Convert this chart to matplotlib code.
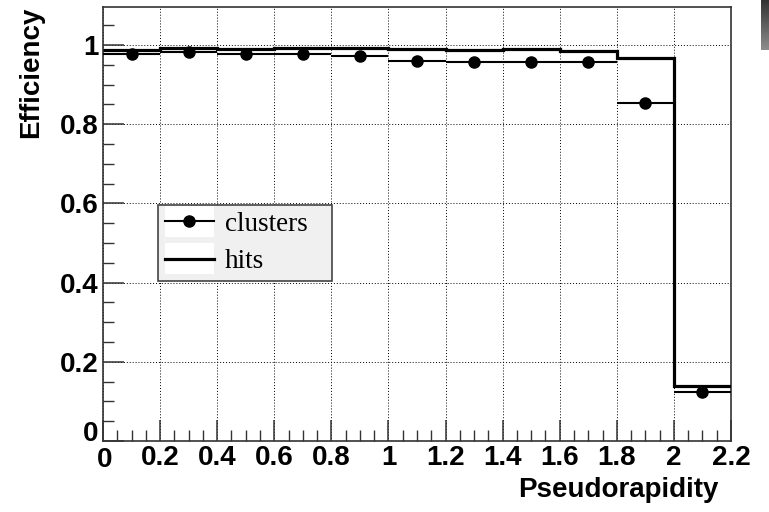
import matplotlib
matplotlib.use('Agg')
import matplotlib.pyplot as plt
import matplotlib.transforms as mtransforms
import numpy as np
from matplotlib.legend_handler import HandlerLine2D
from matplotlib.lines import Line2D
from matplotlib.patches import Rectangle

# bin edges (pseudorapidity)
edges = [0.0, 0.2, 0.4, 0.6, 0.8, 1.0, 1.2, 1.4, 1.6, 1.8, 2.0, 2.2]
# efficiency from hits (histogram line)
hits = [0.988, 0.993, 0.990, 0.992, 0.992, 0.990, 0.987, 0.989, 0.986, 0.966, 0.140]
# efficiency from clusters (points)
clusters = [0.978, 0.982, 0.978, 0.977, 0.972, 0.960, 0.956, 0.958, 0.958, 0.854, 0.124]

edges_a = np.array(edges)
centers = 0.5 * (edges_a[1:] + edges_a[:-1])
half_w = 0.5 * np.diff(edges_a)

plt.rcParams['font.family'] = ['Liberation Sans', 'DejaVu Sans']


class BoxHandler(HandlerLine2D):
    # white box behind legend symbol, ROOT style
    def create_artists(self, legend, orig_handle, xdescent, ydescent,
                       width, height, fontsize, trans):
        box = Rectangle((-xdescent, -ydescent - 0.3 * height), width, 1.6 * height,
                        facecolor='white', edgecolor='none', transform=trans)
        arts = super().create_artists(legend, orig_handle, xdescent, ydescent,
                                      width, height, fontsize, trans)
        return [box] + arts


fig = plt.figure(figsize=(7.69, 5.12), dpi=100)
ax = fig.add_axes([103 / 769, 1 - 441 / 512, 628 / 769, 434 / 512])

ax.stairs(hits, edges, baseline=None, color='k', linewidth=2.3, zorder=3)
ax.errorbar(centers, clusters, xerr=half_w, fmt='o', color='k', ms=8,
            elinewidth=1.5, capsize=0, zorder=4)

ax.set_xlim(0, 2.2)
ax.set_ylim(0, 1.096)
ax.set_xticks(np.arange(0, 2.21, 0.2))
ax.set_xticklabels(['0', '0.2', '0.4', '0.6', '0.8', '1', '1.2', '1.4', '1.6', '1.8', '2', '2.2'])
ax.set_xticks(np.arange(0, 2.21, 0.05), minor=True)
ax.set_yticks([0, 0.2, 0.4, 0.6, 0.8, 1.0])
ax.set_yticklabels(['0', '0.2', '0.4', '0.6', '0.8', '1'])
ax.set_yticks(np.arange(0, 1.09, 0.05), minor=True)

ax.tick_params(which='both', direction='in', top=False, right=False, color='#333333')
ax.tick_params(which='major', length=15, width=1.1, labelsize=20, pad=3)
ax.tick_params(which='minor', length=8, width=1.0)
for lab in ax.get_xticklabels() + ax.get_yticklabels():
    lab.set_fontweight('bold')

# ROOT puts the "0" of the y axis a little above the corner
y0 = ax.get_yticklabels()[0]
y0.set_transform(y0.get_transform() + mtransforms.ScaledTranslation(0, 10 / 100, fig.dpi_scale_trans))
x0 = ax.get_xticklabels()[0]
x0.set_transform(x0.get_transform() + mtransforms.ScaledTranslation(2 / 100, -2 / 100, fig.dpi_scale_trans))

ax.grid(True, which='major', color='k', linestyle=(0, (1, 2)), linewidth=0.7)
for s in ax.spines.values():
    s.set_color('#333333')
    s.set_linewidth(1.2)

ax.set_xlabel('Pseudorapidity', fontsize=20, fontweight='bold', loc='right')
ax.xaxis.set_label_coords((718 - 103) / 628, (441 - 477) / 434)
ax.set_ylabel('Efficiency', fontsize=20, fontweight='bold', loc='top')
ax.yaxis.set_label_coords((44 - 103) / 628, 1.0)

h_cl = Line2D([], [], color='k', marker='o', ms=8, lw=1.5)
h_hi = Line2D([], [], color='k', lw=2.3)
leg = ax.legend([h_cl, h_hi], ['clusters', 'hits'], loc='lower left',
                bbox_to_anchor=(0.088, 0.369, 0.277, 0.18), mode='expand',
                prop={'family': 'Liberation Serif', 'size': 19.5},
                fancybox=False, frameon=True, facecolor='#f0f0f0', edgecolor='#444444',
                framealpha=1, handlelength=1.8, handletextpad=0.4, labelspacing=0.45,
                borderpad=0.25, borderaxespad=0,
                handler_map={Line2D: BoxHandler()})
leg.get_frame().set_linewidth(1.2)
leg.set_zorder(5)

# grey strip at the top right corner of the canvas
strip = fig.add_axes([761 / 769, 1 - 50 / 512, 8 / 769, 50 / 512])
strip.imshow(np.linspace(0.2, 0.55, 50).reshape(-1, 1), cmap='gray', vmin=0, vmax=1,
             aspect='auto')
strip.axis('off')

fig.savefig('out.png', dpi=100)
